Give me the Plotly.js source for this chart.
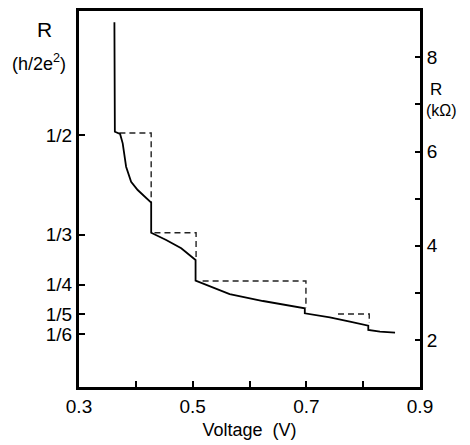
<!DOCTYPE html>
<html>
<head>
<meta charset="utf-8">
<script src="https://cdn.plot.ly/plotly-3.0.1.min.js"></script>
<style>html,body{margin:0;padding:0;background:#fff;}#chart{width:470px;height:445px;}</style>
</head>
<body>
<div id="chart"></div>
<script>
// Measured curve: voltage (V) vs resistance (units of h/2e^2)
const voltage = [0.3623, 0.3631, 0.3723, 0.3769, 0.3829, 0.3917, 0.4033, 0.4152, 0.4270, 0.4270,
                 0.4534, 0.4799, 0.5051, 0.5051, 0.5240, 0.5651, 0.6238, 0.6973, 0.6973, 0.7414,
                 0.7767, 0.8090, 0.8090, 0.8296, 0.8561];
const resistance = [0.6885, 0.5055, 0.5017, 0.4861, 0.4470, 0.4219, 0.4080, 0.3980, 0.3868, 0.3366,
                    0.3244, 0.3105, 0.2910, 0.2564, 0.2492, 0.2341, 0.2224, 0.2102, 0.2018, 0.1952,
                    0.1878, 0.1811, 0.1739, 0.1711, 0.1694];
// Dashed quantized steps (null separates segments)
const dashV = [0.3711, 0.4270, 0.4270, null, 0.4328, 0.5060, 0.5060, null, 0.5175, 0.6993, 0.6993, null, 0.7557, 0.8107, 0.8107];
const dashR = [0.5033, 0.5033, 0.3880, null, 0.3366, 0.3366, 0.2960, null, 0.2559, 0.2559, 0.2107, null, 0.2007, 0.2007, 0.1856];
// Axis ticks
const xTickVals = [0.3, 0.5, 0.7, 0.9];
const xMinorVals = [0.4, 0.6, 0.8];
const leftTickVals = [1/2, 1/3, 1/4, 1/5, 1/6];
const leftTickText = ['1/2', '1/3', '1/4', '1/5', '1/6'];
const rightTickVals = [2, 4, 6, 8];
const rightMinorVals = [3, 5, 7];

const font = 'Liberation Sans, Arial, Helvetica, sans-serif';

const traces = [
  {x: dashV, y: dashR, mode: 'lines', line: {color: '#222', width: 1.4, dash: '6px,4px'}, connectgaps: false, hoverinfo: 'skip', showlegend: false},
  {x: voltage, y: resistance, mode: 'lines', line: {color: '#000', width: 1.8}, showlegend: false},
  {x: [0.6], y: [5], yaxis: 'y2', mode: 'markers', marker: {opacity: 0}, hoverinfo: 'skip', showlegend: false}
];

const minorStyle = {ticks: 'inside', ticklen: 6, tickwidth: 2, tickcolor: '#000', showgrid: false};

const layout = {
  width: 470, height: 445,
  margin: {l: 79, r: 50, t: 11, b: 58},
  paper_bgcolor: '#fff', plot_bgcolor: '#fff',
  font: {family: font, color: '#000', size: 18},
  xaxis: {
    range: [0.3, 0.9], tickmode: 'array', tickvals: xTickVals, ticktext: xTickVals.map(v => v.toFixed(1)),
    ticks: 'inside', ticklen: 6, tickwidth: 2, tickcolor: '#000',
    minor: Object.assign({tickvals: xMinorVals}, minorStyle),
    showline: true, linewidth: 3, linecolor: '#000', mirror: true,
    showgrid: false, zeroline: false, tickfont: {size: 19},
    title: {text: 'Voltage  (V)', font: {size: 18}, standoff: 8}
  },
  yaxis: {
    range: [0.0786, 0.7074], tickmode: 'array', tickvals: leftTickVals, ticktext: leftTickText,
    ticks: 'inside', ticklen: 6, tickwidth: 2, tickcolor: '#000',
    showline: true, linewidth: 3, linecolor: '#000',
    showgrid: false, zeroline: false, tickfont: {size: 19}
  },
  yaxis2: {
    overlaying: 'y', side: 'right', range: [1.0, 8.985],
    tickmode: 'array', tickvals: rightTickVals, ticktext: rightTickVals.map(String),
    ticks: 'inside', ticklen: 5, tickwidth: 2, tickcolor: '#000',
    minor: Object.assign({tickvals: rightMinorVals}, minorStyle, {ticklen: 5}),
    showline: true, linewidth: 3, linecolor: '#000',
    showgrid: false, zeroline: false, tickfont: {size: 19}
  },
  annotations: [
    {text: 'R', xref: 'paper', yref: 'paper', x: -0.1026, y: 0.9495, xanchor: 'center', yanchor: 'middle', showarrow: false, font: {size: 21}},
    {text: '(h/2e<sup>2</sup>)', xref: 'paper', yref: 'paper', x: -0.116, y: 0.862, xanchor: 'center', yanchor: 'middle', showarrow: false, font: {size: 18}},
    {text: 'R', xref: 'paper', yref: 'paper', x: 1.047, y: 0.792, xanchor: 'center', yanchor: 'middle', showarrow: false, font: {size: 17}},
    {text: '(kΩ)', xref: 'paper', yref: 'paper', x: 1.0616, y: 0.735, xanchor: 'center', yanchor: 'middle', showarrow: false, font: {size: 16}}
  ]
};

Plotly.newPlot('chart', traces, layout, {displayModeBar: false, staticPlot: true});
</script>
</body>
</html>
